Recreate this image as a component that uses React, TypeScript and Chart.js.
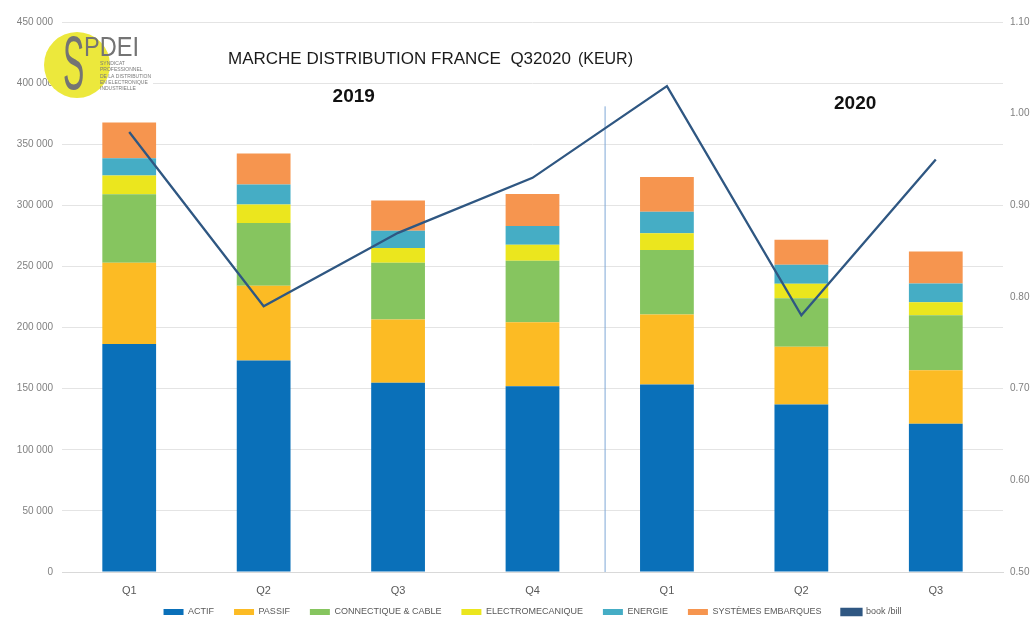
import React, { useEffect, useRef } from 'react';
import { Chart, registerables } from 'chart.js';

Chart.register(...registerables);

const categories = ['Q1', 'Q2', 'Q3', 'Q4', 'Q1', 'Q2', 'Q3'];
const actif = [186600, 173000, 154900, 151900, 153500, 137100, 121300];
const passif = [66400, 61200, 51700, 52500, 57200, 47100, 43700];
const connectique = [56000, 51300, 46400, 50300, 52700, 39800, 45100];
const electromecanique = [15400, 15100, 12000, 13100, 13700, 11800, 10600];
const energie = [14100, 16400, 14300, 15200, 17700, 15600, 15400];
const systemes = [29300, 25400, 24600, 26300, 28400, 20500, 26200];
const bookBill = [0.98, 0.79, 0.87, 0.93, 1.03, 0.78, 0.95];

const seriesNames = ['ACTIF', 'PASSIF', 'CONNECTIQUE & CABLE', 'ELECTROMECANIQUE', 'ENERGIE', 'SYSTÈMES EMBARQUES'];
const seriesColors = ['#0a70b9', '#fcbb24', '#86c55f', '#ebe61e', '#45adc5', '#f6954f'];
const lineName = 'book /bill';
const lineColor = '#2f5782';

const title = 'MARCHE DISTRIBUTION FRANCE  Q32020';
const titleUnit = '(KEUR)';
const yearLabels = ['2019', '2020'];
const logoLines = ['SYNDICAT', 'PROFESSIONNEL', 'DE LA DISTRIBUTION', 'EN ELECTRONIQUE', 'INDUSTRIELLE'];

const FONT = "'Liberation Sans', Arial, sans-serif";

const fmtThousands = (v: number) => String(Math.round(v)).replace(/\B(?=(\d{3})+(?!\d))/g, ' ');

const decorPlugin = {
  id: 'decor',
  afterInit(chart: any) {
    const lg = chart.legend;
    if (lg) {
      const origFit = lg.fit.bind(lg);
      lg.fit = () => {
        origFit();
        lg.height = 18;
      };
    }
  },
  afterLayout(chart: any) {
    const lg = chart.legend;
    if (lg) {
      lg.top = chart.chartArea.bottom + 15.5;
      lg.bottom = chart.height;
      lg.height = lg.bottom - lg.top;
    }
  },
  beforeDatasetsDraw(chart: any) {
    const { ctx } = chart;
    const x = chart.scales.x.getPixelForValue(3.54);
    const y = chart.scales.y;
    ctx.save();
    ctx.strokeStyle = '#7fa8d6';
    ctx.lineWidth = 1;
    ctx.beginPath();
    ctx.moveTo(x, y.getPixelForValue(381000));
    ctx.lineTo(x, y.getPixelForValue(0));
    ctx.stroke();
    ctx.restore();
  },
  afterDraw(chart: any) {
    const { ctx } = chart;
    const xs = chart.scales.x;
    const ys = chart.scales.y;
    ctx.save();
    // Title
    ctx.fillStyle = '#1a1a1a';
    ctx.textBaseline = 'alphabetic';
    ctx.textAlign = 'left';
    ctx.font = `17px ${FONT}`;
    ctx.fillText(title, 228, 64);
    const tw = ctx.measureText(title).width;
    ctx.font = `16px ${FONT}`;
    ctx.fillText(titleUnit, 228 + tw + 7, 64, 59);

    // Year labels
    ctx.font = `bold 19px ${FONT}`;
    ctx.textAlign = 'center';
    ctx.textBaseline = 'middle';
    ctx.fillStyle = '#111';
    ctx.fillText(yearLabels[0], xs.getPixelForValue(1.67), ys.getPixelForValue(388500));
    ctx.fillText(yearLabels[1], xs.getPixelForValue(5.4), ys.getPixelForValue(382800));

    // Logo
    ctx.fillStyle = '#ffffff';
    ctx.fillRect(53, 25, 100, 75);
    ctx.fillStyle = '#ece83c';
    ctx.beginPath();
    ctx.arc(77, 65, 33, 0, Math.PI * 2);
    ctx.fill();
    ctx.fillStyle = '#747474';
    ctx.textAlign = 'left';
    ctx.textBaseline = 'alphabetic';
    ctx.save();
    ctx.translate(63, 89);
    ctx.scale(0.42, 1);
    ctx.font = `76px ${FONT}`;
    ctx.fillText('S', 0, 0);
    ctx.restore();
    ctx.font = `28px ${FONT}`;
    ctx.fillText('PDEI', 84, 56, 55);
    ctx.fillStyle = '#7a7a7a';
    ctx.font = `5px ${FONT}`;
    logoLines.forEach((t, i) => ctx.fillText(t, 100, 65 + i * 6.3));
    ctx.restore();
  },
};

export default function App() {
  const ref = useRef<HTMLCanvasElement | null>(null);

  useEffect(() => {
    if (!ref.current) return;
    const seriesData = [actif, passif, connectique, electromecanique, energie, systemes];
    const chart = new Chart(ref.current, {
      type: 'bar',
      data: {
        labels: categories,
        datasets: [
          {
            type: 'line',
            label: lineName,
            data: bookBill,
            yAxisID: 'y1',
            borderColor: lineColor,
            backgroundColor: lineColor,
            borderWidth: 2.3,
            pointRadius: 0,
            tension: 0,
          } as any,
          ...seriesData.map((d, i) => ({
            type: 'bar',
            label: seriesNames[i],
            data: d,
            yAxisID: 'y',
            backgroundColor: seriesColors[i],
            borderWidth: 0,
            barPercentage: 0.4,
            categoryPercentage: 1,
          })),
        ],
      },
      options: {
        animation: false,
        responsive: true,
        maintainAspectRatio: false,
        layout: { padding: { top: 22, left: 0, right: 0, bottom: 0 } },
        plugins: {
          tooltip: { enabled: false },
          legend: {
            position: 'bottom',
            fullSize: false,
            labels: {
              font: { size: 9, family: FONT },
              color: '#595959',
              boxWidth: 20,
              boxHeight: 6,
              padding: 20,
              sort: (a: any, b: any) =>
                (a.datasetIndex === 0 ? 99 : a.datasetIndex) - (b.datasetIndex === 0 ? 99 : b.datasetIndex),
            },
          },
        },
        scales: {
          x: {
            stacked: true,
            grid: { display: false, drawTicks: false },
            border: { display: true, color: '#d9d9d9' },
            ticks: { font: { size: 11, family: FONT }, color: '#595959', padding: 12 },
            afterFit: (s: any) => {
              s.height = 27;
            },
          },
          y: {
            stacked: true,
            position: 'left',
            min: 0,
            max: 450000,
            ticks: {
              stepSize: 50000,
              callback: (v: any) => fmtThousands(Number(v)),
              font: { size: 10, family: FONT },
              color: '#808080',
              padding: 9,
            },
            grid: { color: '#e4e4e4', drawTicks: false },
            border: { display: false },
            afterFit: (s: any) => {
              s.width = 62;
            },
          },
          y1: {
            position: 'right',
            min: 0.5,
            max: 1.1,
            ticks: {
              stepSize: 0.1,
              callback: (v: any) => Number(v).toFixed(2),
              font: { size: 10, family: FONT },
              color: '#808080',
              padding: 7,
            },
            grid: { display: false, drawTicks: false },
            border: { display: false },
            afterFit: (s: any) => {
              s.width = 30;
            },
          },
        },
      } as any,
      plugins: [decorPlugin],
    });
    return () => chart.destroy();
  }, []);

  return (
    <div style={{ position: 'absolute', left: 0, top: 0, width: 1033, height: 617, background: '#fff' }}>
      <canvas ref={ref} />
    </div>
  );
}
